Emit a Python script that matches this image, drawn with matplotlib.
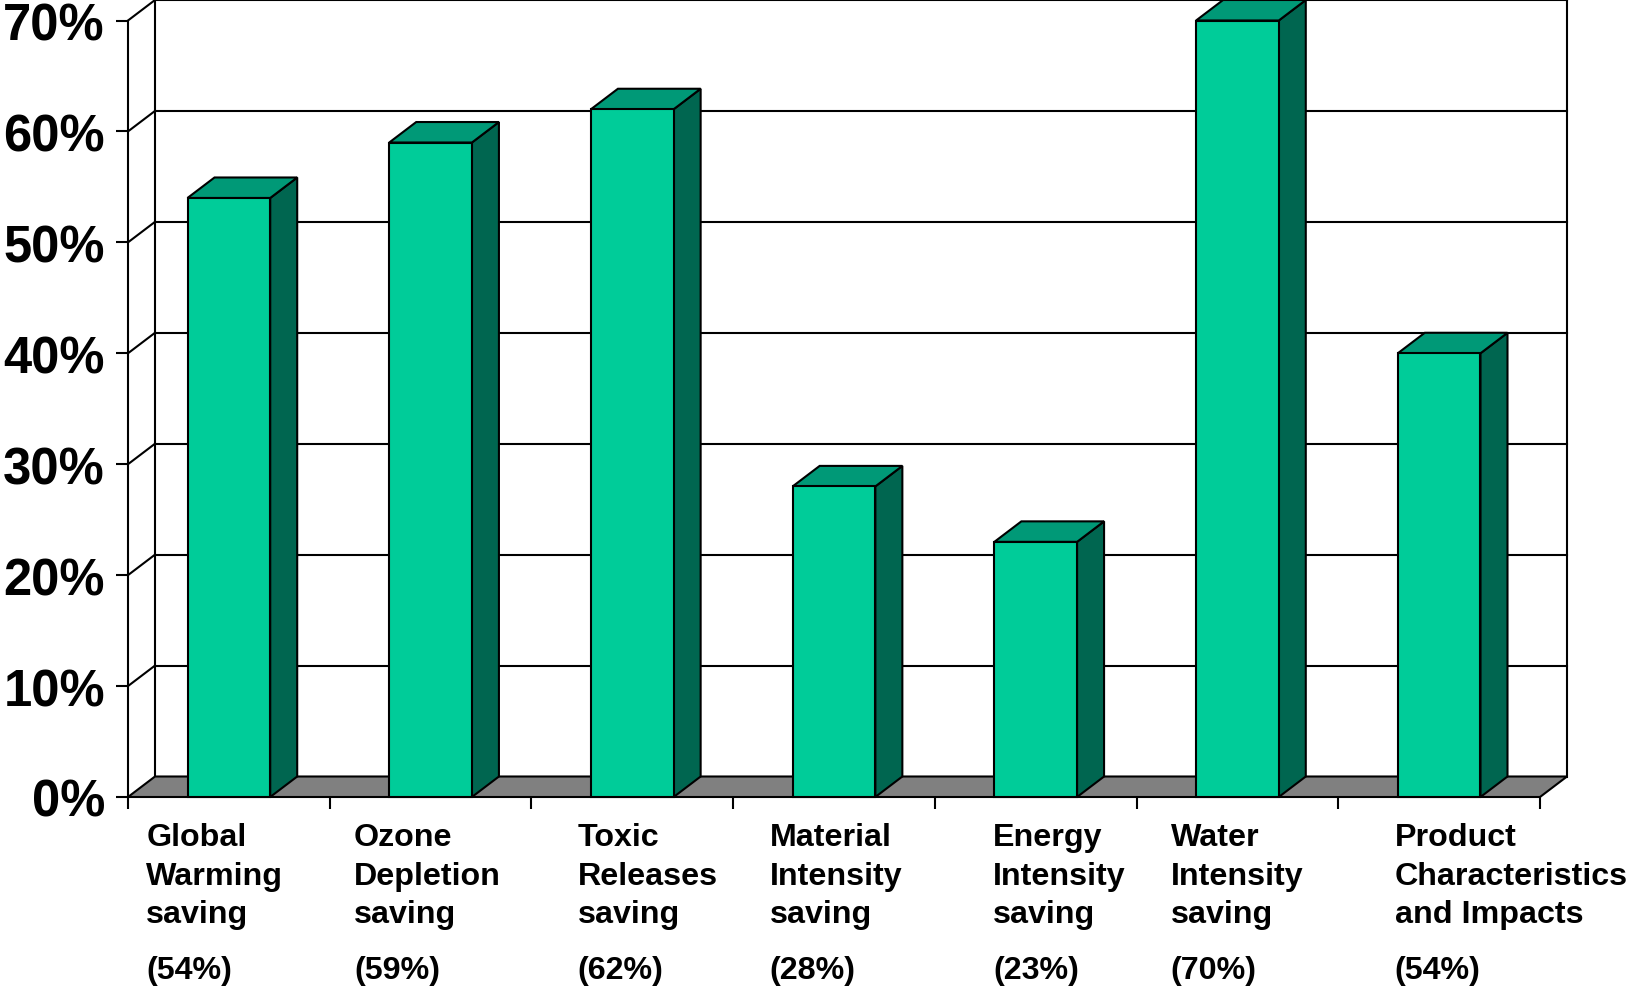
import matplotlib
matplotlib.use("Agg")
import matplotlib.pyplot as plt
from matplotlib.patches import Polygon, Rectangle
from matplotlib.ticker import FixedLocator, FuncFormatter
import matplotlib.transforms as mtransforms

# ---- data -------------------------------------------------------------
name_lines = [
    ["Global", "Warming", "saving"],
    ["Ozone", "Depletion", "saving"],
    ["Toxic", "Releases", "saving"],
    ["Material", "Intensity", "saving"],
    ["Energy", "Intensity", "saving"],
    ["Water", "Intensity", "saving"],
    ["Product", "Characteristics", "and Impacts"],
]
bar_values = [54, 59, 62, 28, 23, 70, 40]          # bar heights (%)
stated_pct = [54, 59, 62, 28, 23, 70, 54]          # percentages printed under each name
y_ticks = [0, 10, 20, 30, 40, 50, 60, 70]

# ---- layout -----------------------------------------------------------
W, H = 1626, 987
FRONT_L, FRONT_R = 128, 1540      # px, front plane horizontal extent
FRONT_B, FRONT_T = 798, 21.5      # px from top, 0% and 70%
label_x = [0.09, 1.12, 2.23, 3.18, 4.29, 5.17, 6.28]   # left edge of each name (category units)
line_baselines = [846, 885, 923]  # px from top
pct_baseline = 979

FONT = "Liberation Sans"
FRONT_C = "#00CC99"
TOP_C = "#009977"
SIDE_C = "#006650"
FLOOR_C = "#808080"
LW = 1.5

fig = plt.figure(figsize=(W / 100, H / 100), dpi=100)
fig.patch.set_facecolor("white")
ax = fig.add_axes([FRONT_L / W, (H - FRONT_B) / H,
                   (FRONT_R - FRONT_L) / W, (FRONT_B - FRONT_T) / H])
n = len(bar_values)
ymax = y_ticks[-1]
ax.set_xlim(0, n)
ax.set_ylim(0, ymax)
ax.set_facecolor("none")

# depth offset of the 3-D box, in data units
px_per_cat = (FRONT_R - FRONT_L) / n
px_per_pct = (FRONT_B - FRONT_T) / ymax
DX = 27.0 / px_per_cat
DY = 20.5 / px_per_pct

kw = dict(color="black", lw=LW, clip_on=False, solid_capstyle="projecting")

# side wall and back wall gridlines
for v in y_ticks[1:]:
    ax.plot([0, DX], [v, v + DY], zorder=1, **kw)
    ax.plot([DX, n + DX], [v + DY, v + DY], zorder=1, **kw)
ax.plot([DX, DX], [DY, ymax + DY], zorder=1, **kw)
ax.plot([n + DX, n + DX], [DY, ymax + DY], zorder=1, **kw)

# floor
ax.add_patch(Polygon([(0, 0), (n, 0), (n + DX, DY), (DX, DY)], closed=True,
                     facecolor=FLOOR_C, edgecolor="black", lw=LW,
                     clip_on=False, zorder=2, joinstyle="miter"))

# bars
bw = 0.41
for i, v in enumerate(bar_values):
    xa = i + 0.5 - bw / 2
    xb = i + 0.5 + bw / 2
    ax.add_patch(Polygon([(xb, 0), (xb + DX, DY), (xb + DX, v + DY), (xb, v)],
                         closed=True, facecolor=SIDE_C, edgecolor="black", lw=LW,
                         clip_on=False, zorder=3, joinstyle="miter"))
    ax.add_patch(Polygon([(xa, v), (xb, v), (xb + DX, v + DY), (xa + DX, v + DY)],
                         closed=True, facecolor=TOP_C, edgecolor="black", lw=LW,
                         clip_on=False, zorder=3, joinstyle="miter"))
    ax.add_patch(Rectangle((xa, 0), bw, v, facecolor=FRONT_C, edgecolor="black",
                           lw=LW, clip_on=False, zorder=4, joinstyle="miter"))

# axes: front value axis and category ticks
for s in ["top", "right", "bottom"]:
    ax.spines[s].set_visible(False)
ax.spines["left"].set_linewidth(LW)
ax.spines["left"].set_zorder(5)
ax.yaxis.set_major_locator(FixedLocator(y_ticks))
ax.yaxis.set_major_formatter(FuncFormatter(lambda v, p: f"{v:.0f}%"))
ax.xaxis.set_major_locator(FixedLocator(range(n + 1)))
ax.xaxis.set_major_formatter(FuncFormatter(lambda v, p: ""))
ax.tick_params(axis="both", direction="out", length=8.6, width=LW, color="black")
ax.tick_params(axis="y", pad=8)
for lab in ax.get_yticklabels():
    lab.set_fontfamily(FONT)
    lab.set_fontweight("bold")
    lab.set_fontsize(36.5)

# category names and stated percentages
tr = mtransforms.blended_transform_factory(ax.transData, fig.transFigure)
for i, lines in enumerate(name_lines):
    for line, yb in zip(lines, line_baselines):
        ax.text(label_x[i], (H - yb) / H, line, transform=tr, ha="left",
                va="baseline", fontsize=23.2, fontweight="bold",
                family=FONT, clip_on=False)
    ax.text(label_x[i], (H - pct_baseline) / H, f"({stated_pct[i]}%)",
            transform=tr, ha="left", va="baseline", fontsize=23.2,
            fontweight="bold", family=FONT, clip_on=False)

fig.savefig("out.png", dpi=100, facecolor="white")
